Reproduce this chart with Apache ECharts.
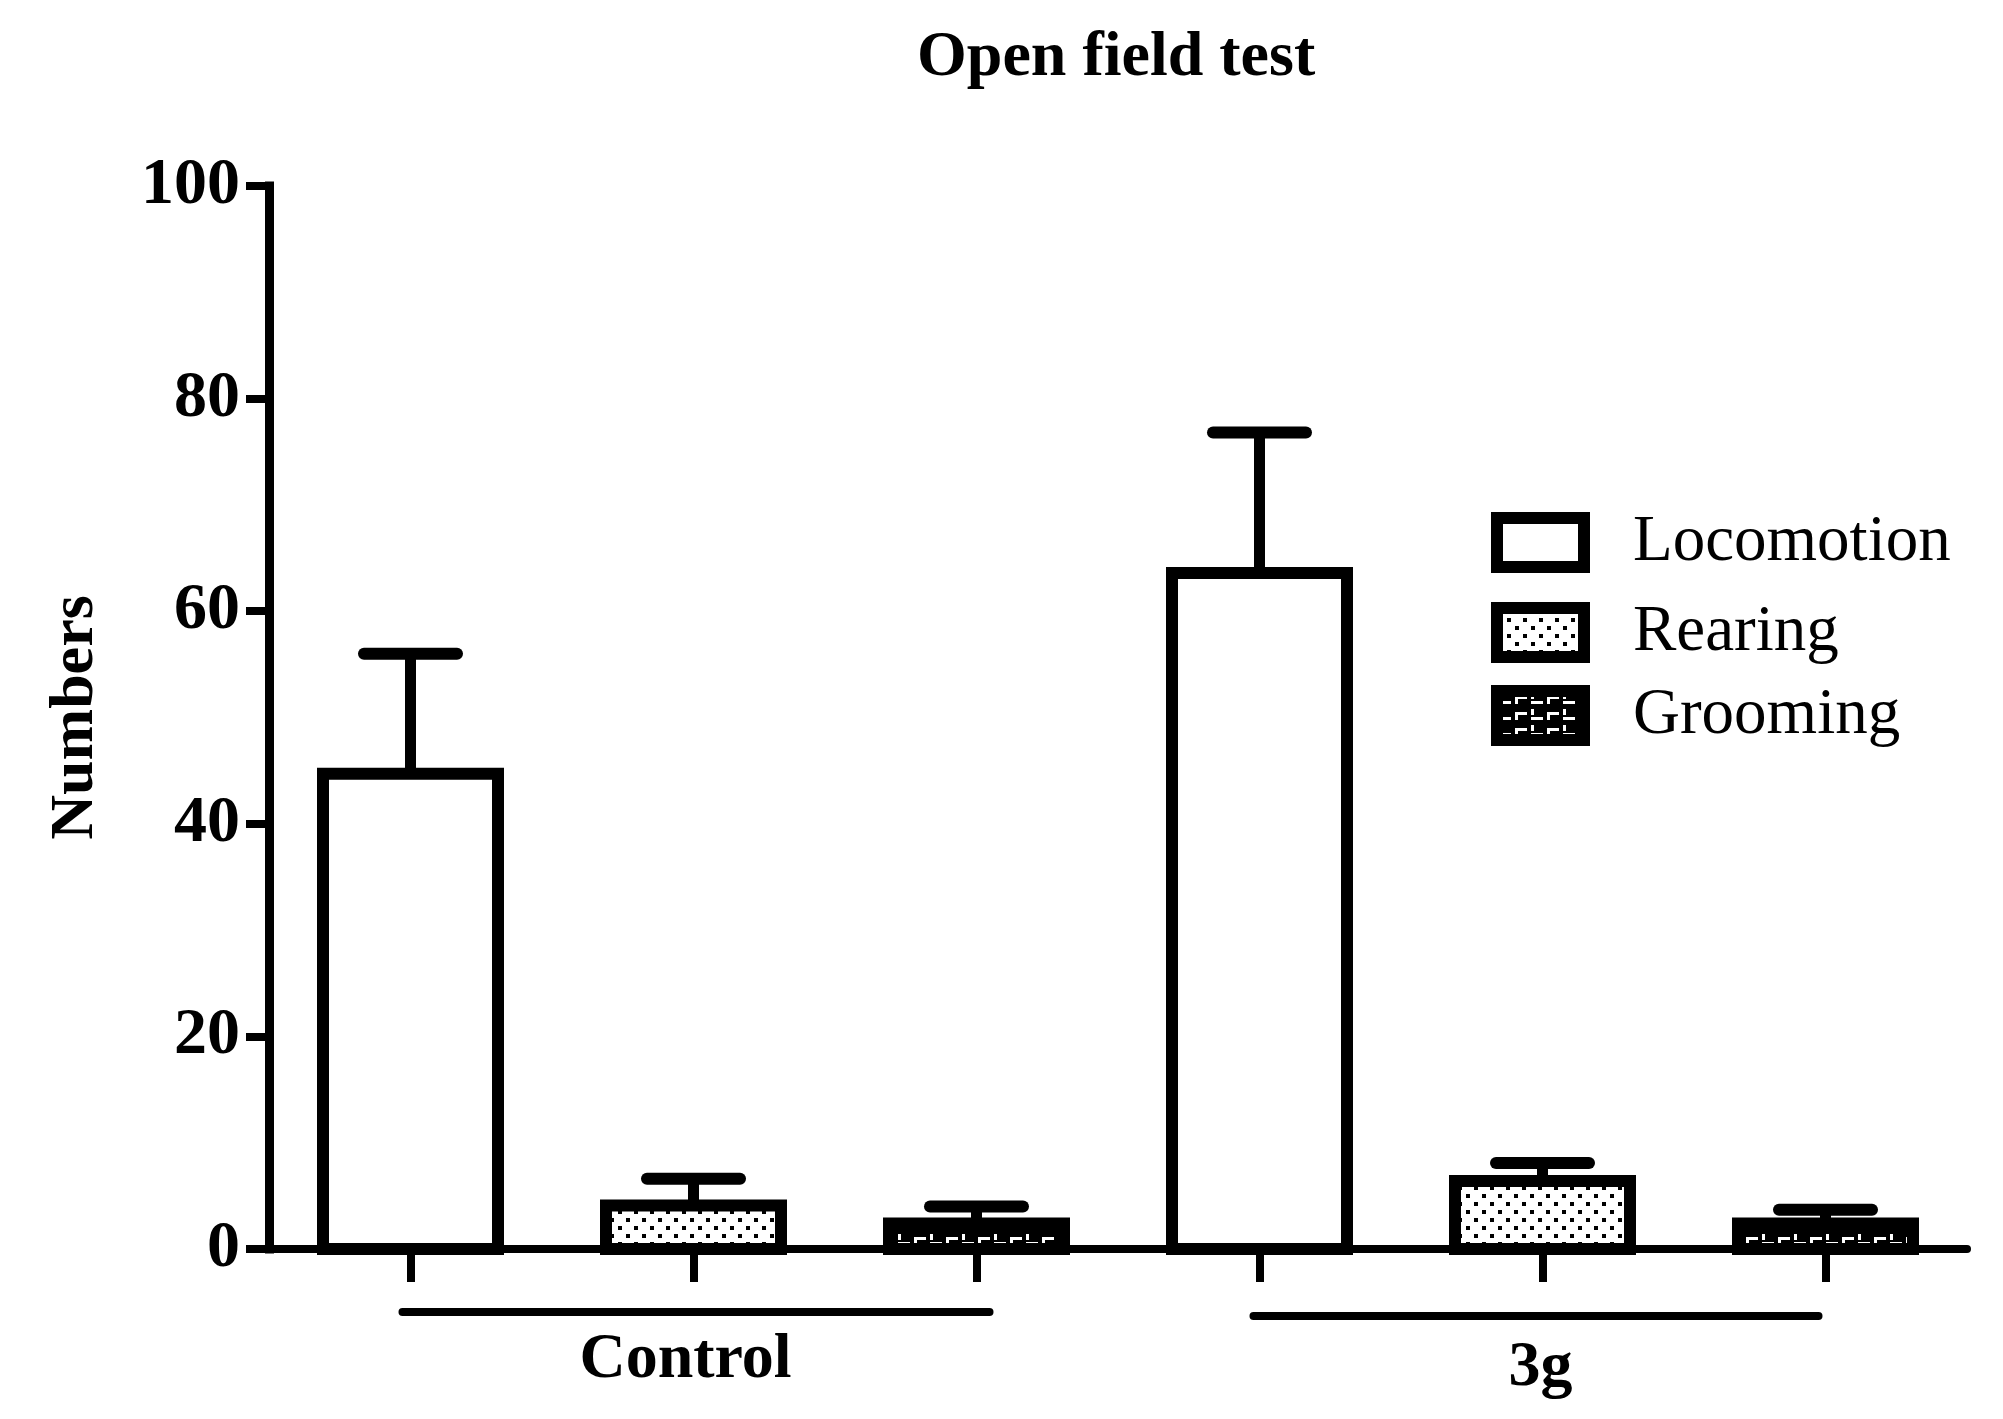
<!DOCTYPE html>
<html>
<head>
<meta charset="utf-8">
<script src="https://cdn.jsdelivr.net/npm/echarts@6/dist/echarts.min.js"></script>
<style>html,body{margin:0;padding:0;background:#fff;}#chart{width:2003px;height:1419px;}</style>
</head>
<body>
<div id="chart"></div>
<script>
// ---- data ----
const groups = ['Control', '3g'];
const measures = ['Locomotion', 'Rearing', 'Grooming'];
const locomotionMean = [44.7, 63.6];
const locomotionUpper = [56.0, 76.8];
const rearingMean = [4.1, 6.4];
const rearingUpper = [6.6, 8.1];
const groomingMean = [2.4, 2.4];
const groomingUpper = [4.0, 3.7];
const yTicks = [0, 20, 40, 60, 80, 100];

const FONT = "'Liberation Serif', 'Times New Roman', serif";

// patterns
function dotsPattern() {
  const c = document.createElement('canvas'); c.width = 16; c.height = 16;
  const g = c.getContext('2d');
  g.fillStyle = '#fff'; g.fillRect(0, 0, 16, 16);
  g.fillStyle = '#000'; g.fillRect(2, 2, 4, 4); g.fillRect(10, 10, 4, 4);
  return c;
}
function groomPattern() {
  const c = document.createElement('canvas'); c.width = 32; c.height = 16;
  const g = c.getContext('2d');
  g.fillStyle = '#000'; g.fillRect(0, 0, 32, 16);
  g.fillStyle = '#fff';
  g.fillRect(2, 2, 3, 6);
  g.fillRect(2, 10, 12, 3);
  g.fillRect(18, 5, 12, 3);
  g.fillRect(18, 5, 3, 8);
  return c;
}

const means = [locomotionMean, rearingMean, groomingMean];
const uppers = [locomotionUpper, rearingUpper, groomingUpper];
const fills = ['#ffffff', { image: dotsPattern(), repeat: 'repeat' }, { image: groomPattern(), repeat: 'repeat' }];

// 6 slots: group x measure
const categories = [];
groups.forEach(g => measures.forEach(m => categories.push(g + ' ' + m)));
const nSlots = categories.length;

const BAR_W = 175;
const barSeries = measures.map((m, mi) => {
  const data = [];
  groups.forEach((g, gi) => data.push([gi * measures.length + mi, means[mi][gi]]));
  return {
    name: m, type: 'custom', data: data, clip: false, z: 3,
    itemStyle: { color: fills[mi], borderColor: '#000', borderWidth: 12 },
    renderItem: function (params, api) {
      const x = api.value(0);
      const top = api.coord([x, api.value(1)]);
      const base = api.coord([x, 0]);
      return {
        type: 'rect',
        shape: { x: top[0] - BAR_W / 2, y: top[1], width: BAR_W, height: base[1] - top[1] },
        style: { fill: fills[mi], stroke: '#000', lineWidth: 12 }
      };
    }
  };
});

const errData = [];
for (let s = 0; s < nSlots; s++) {
  const gi = Math.floor(s / measures.length), k = s % measures.length;
  errData.push([s, means[k][gi], uppers[k][gi]]);
}

const groupData = groups.map((g, gi) => [gi * measures.length, gi * measures.length + measures.length - 1]);
const groupLineOffset = [63, 67];
const groupLineExt = [[-8, 13], [-6, -7]];
const groupTextOffset = [111, 119];
const groupTextShift = [-8, -2];

const chart = echarts.init(document.getElementById('chart'));
chart.setOption({
  animation: false,
  backgroundColor: '#fff',
  title: {
    text: 'Open field test', left: 917, top: 26, padding: 0,
    textStyle: { fontFamily: FONT, fontWeight: 'bold', fontSize: 64, color: '#000' }
  },
  legend: measures.map((m, i) => ({
    data: [m], left: 1491, top: [510, 600, 683][i], padding: 0,
    icon: 'rect', itemWidth: 87, itemHeight: 49,
    itemStyle: { borderWidth: 12, borderColor: '#000' },
    textStyle: { fontFamily: FONT, fontSize: 65, color: '#000', lineHeight: 49, padding: [0, 0, 0, 44] },
    selectedMode: false
  })),
  grid: { left: 269, width: 1698, top: 186, height: 1063 },
  xAxis: {
    type: 'category', data: categories,
    axisLine: { show: true, lineStyle: { color: '#000', width: 8 } },
    axisTick: { show: true, alignWithLabel: true, length: 33, lineStyle: { color: '#000', width: 8 } },
    axisLabel: { show: false },
    splitLine: { show: false }
  },
  yAxis: {
    type: 'value', min: 0, max: 100, interval: 20,
    name: 'Numbers', nameLocation: 'middle', nameGap: 162,
    nameTextStyle: { fontFamily: FONT, fontWeight: 'bold', fontSize: 62, color: '#000' },
    axisLine: { show: true, lineStyle: { color: '#000', width: 9, cap: 'square' } },
    axisTick: { show: true, length: 23, lineStyle: { color: '#000', width: 8 } },
    axisLabel: { fontFamily: FONT, fontWeight: 'bold', fontSize: 66, color: '#000', margin: 29,
      formatter: v => yTicks.indexOf(v) >= 0 ? String(v) : '' },
    splitLine: { show: false }
  },
  series: barSeries.concat([
    {
      type: 'custom', name: 'err', data: errData, z: 2, silent: true,
      renderItem: function (params, api) {
        const x = api.value(0);
        const p0 = api.coord([x, api.value(1)]);
        const p1 = api.coord([x, api.value(2)]);
        return {
          type: 'group', children: [
            { type: 'line', shape: { x1: p0[0], y1: p0[1], x2: p1[0], y2: p1[1] }, style: { stroke: '#000', lineWidth: 11 } },
            { type: 'line', shape: { x1: p1[0] - 46.5, y1: p1[1], x2: p1[0] + 46.5, y2: p1[1] }, style: { stroke: '#000', lineWidth: 12, lineCap: 'round' } }
          ]
        };
      }
    },
    {
      type: 'custom', name: 'groups', data: groupData, clip: false, silent: true,
      encode: { x: [0, 1] },
      renderItem: function (params, api) {
        const i = params.dataIndex;
        const a = api.coord([api.value(0), 0]);
        const b = api.coord([api.value(1), 0]);
        const y = a[1];
        return {
          type: 'group', children: [
            { type: 'line', shape: { x1: a[0] + groupLineExt[i][0], y1: y + groupLineOffset[i], x2: b[0] + groupLineExt[i][1], y2: y + groupLineOffset[i] },
              style: { stroke: '#000', lineWidth: 8, lineCap: 'round' } },
            { type: 'text', style: { text: groups[i], x: (a[0] + b[0]) / 2 + groupTextShift[i], y: y + groupTextOffset[i],
              font: 'bold 64px ' + FONT, fill: '#000', align: 'center', verticalAlign: 'middle' } }
          ]
        };
      }
    }
  ])
});
</script>
</body>
</html>
